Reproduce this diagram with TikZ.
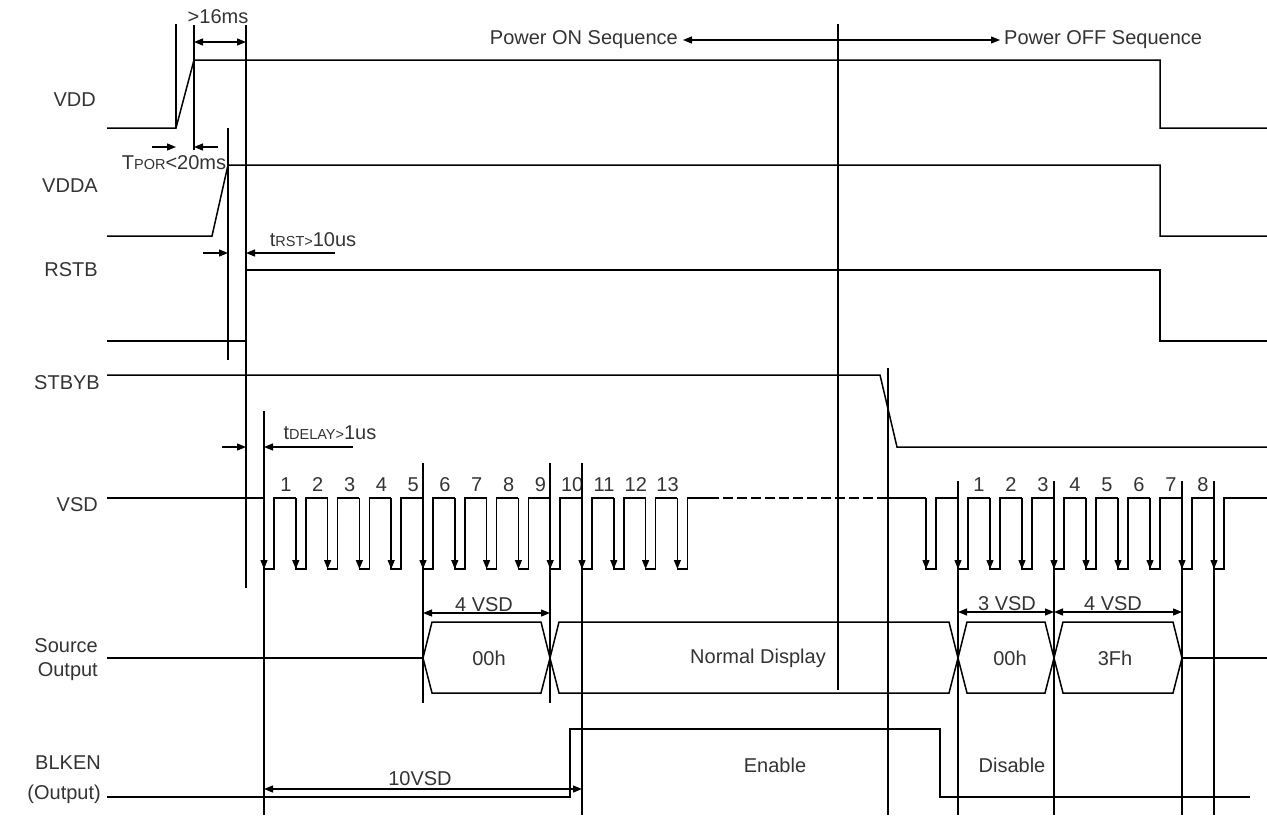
\documentclass[tikz,border=0pt]{standalone}
\usepackage{fontspec}
\setmainfont{Liberation Sans}
\usetikzlibrary{arrows.meta}

\def\hi{498}
\def\lo{569}

\begin{document}
\begin{tikzpicture}[x=1pt, y=-1pt,
    sig/.style={line width=1.5pt, line join=miter},
    guide/.style={line width=1.4pt},
    tip/.style={line width=1.3pt, -{Triangle[length=9pt,width=7pt]}},
    dim/.style={line width=1.3pt, {Triangle[length=9pt,width=7pt]}-{Triangle[length=9pt,width=7pt]}},
    every node/.style={text=black!80, inner sep=0pt},
    lbl/.style={font=\fontsize{20}{24}\selectfont, anchor=east, align=right},
    txt/.style={font=\fontsize{20}{22}\selectfont},
    cnt/.style={font=\fontsize{20}{22}\selectfont}]
      \useasboundingbox (0,0) rectangle (1267,815);

      % signal names
      \node[lbl] (vdd) at (96,100) {VDD};
      \node[lbl] (vdda) at (98,186) {VDDA};
      \node[lbl] (rstb) at (98,270) {RSTB};
      \node[lbl] (stbyb) at (100,383) {STBYB};
      \node[lbl] (vsd) at (98,505) {VSD};
      \node[lbl] (src) at (98,660) {Source\\Output};
      \node[lbl] (blken) at (101,780) {BLKEN\\[6pt](Output)};

      % supplies and reset
      \draw[sig] (107,128) -- (176,128) -- (194,60) -- (1160,60) -- (1160,128) -- (1267,128);
      \draw[sig] (107,236) -- (212,236) -- (228,165) -- (1160,165) -- (1160,236) -- (1267,236);
      \draw[sig] (107,341) -- (246,341) -- (246,270) -- (1160,270) -- (1160,341) -- (1267,341);
      \draw[sig] (107,375) -- (880,375) -- (897,447) -- (1267,447);

      % VSD pulses, power on
      \draw[sig] (107,\hi) -- (264,\hi);
      \foreach \k in {0,...,13} {
        \pgfmathsetmacro\fx{264+31.8*\k}
        \draw[sig] (\fx,\hi) -- (\fx,\lo) -- (\fx+10,\lo) -- (\fx+10,\hi) -- (\fx+31.8,\hi);
        \draw[tip] (\fx,540) -- (\fx,\lo);
      }
      \foreach \n in {1,...,13} {
        \node[cnt] (on\n) at ({264+31.8*(\n-1)+22},485) {\n};
      }
      \draw[sig, dash pattern=on 10pt off 4pt] (709,\hi) -- (884,\hi);
      \draw[sig] (884,\hi) -- (926,\hi);

      % VSD pulses, power off
      \foreach \j in {0,...,9} {
        \pgfmathsetmacro\gx{926+32*\j}
        \draw[sig] (\gx,\hi) -- (\gx,\lo) -- (\gx+10,\lo) -- (\gx+10,\hi) -- (\gx+32,\hi);
        \draw[tip] (\gx,540) -- (\gx,\lo);
      }
      \draw[sig] (1246,\hi) -- (1267,\hi);
      \foreach \n in {1,...,8} {
        \node[cnt] (off\n) at ({926+32*\n+21},485) {\n};
      }

      % source output
      \draw[sig] (107,658) -- (423,658);
      \draw[sig] (423,658) -- (432,622) -- (541,622) -- (550,658) -- (541,693) -- (432,693) -- cycle;
      \draw[sig] (550,658) -- (559,622) -- (949,622) -- (958,658) -- (949,693) -- (559,693) -- cycle;
      \draw[sig] (958,658) -- (967,622) -- (1045,622) -- (1054,658) -- (1045,693) -- (967,693) -- cycle;
      \draw[sig] (1054,658) -- (1063,622) -- (1173,622) -- (1182,658) -- (1173,693) -- (1063,693) -- cycle;
      \draw[sig] (1182,658) -- (1267,658);
      \node[txt] (d00a) at (489,658) {00h};
      \node[txt] (norm) at (758,658) {Normal Display};
      \node[txt] (d00b) at (1010,658) {00h};
      \node[txt] (d3f) at (1115,658) {3Fh};

      % BLKEN
      \draw[sig] (107,797) -- (570,797) -- (570,729) -- (940,729) -- (940,797) -- (1250,797);
      \node[txt] (en) at (775,765) {Enable};
      \node[txt] (dis) at (1012,765) {Disable};

      % guide lines
      \foreach \x/\a/\b in {176/24/128, 194/25/150, 246/25/588, 228/128/360,
          264/411/815, 423/463/703, 550/463/703, 582/463/815, 838/24/690,
          888/368/815, 958/481/815, 1054/481/815, 1182/481/815, 1214/481/815} {
        \draw[guide] (\x,\a) -- (\x,\b);
      }

      % timing marks
      \draw[dim] (194,42) -- (246,42);
      \node[txt] (t16) at (218,17) {>16ms};
      \draw[tip] (152,147) -- (176,147);
      \draw[tip] (218,147) -- (194,147);
      \node[txt] (tpor) at (174,163) {T{\fontsize{14.5}{16}\selectfont POR}<20ms};
      \draw[tip] (203,253) -- (228,253);
      \draw[tip] (335,253) -- (246,253);
      \node[txt] (trst) at (313,240) {t{\fontsize{14.5}{16}\selectfont RST>}10us};
      \draw[tip] (222,447) -- (246,447);
      \draw[tip] (353,447) -- (264,447);
      \node[txt] (tdly) at (330,433) {t{\fontsize{14.5}{16}\selectfont DELAY>}1us};
      \draw[dim] (423,613) -- (550,613);
      \node[txt] (w4a) at (484,605) {4 VSD};
      \draw[dim] (958,612) -- (1054,612);
      \node[txt] (w3) at (1007,604) {3 VSD};
      \draw[dim] (1054,612) -- (1182,612);
      \node[txt] (w4b) at (1113,604) {4 VSD};
      \draw[dim] (264,789) -- (582,789);
      \node[txt] (w10) at (420,779) {10VSD};

      % sequence
      \draw[dim] (683,40) -- (1000,40);
      \node[txt, anchor=east] (pon) at (678,40) {Power ON Sequence};
      \node[txt, anchor=west] (poff) at (1004,40) {Power OFF Sequence};
    \end{tikzpicture}
\end{document}
